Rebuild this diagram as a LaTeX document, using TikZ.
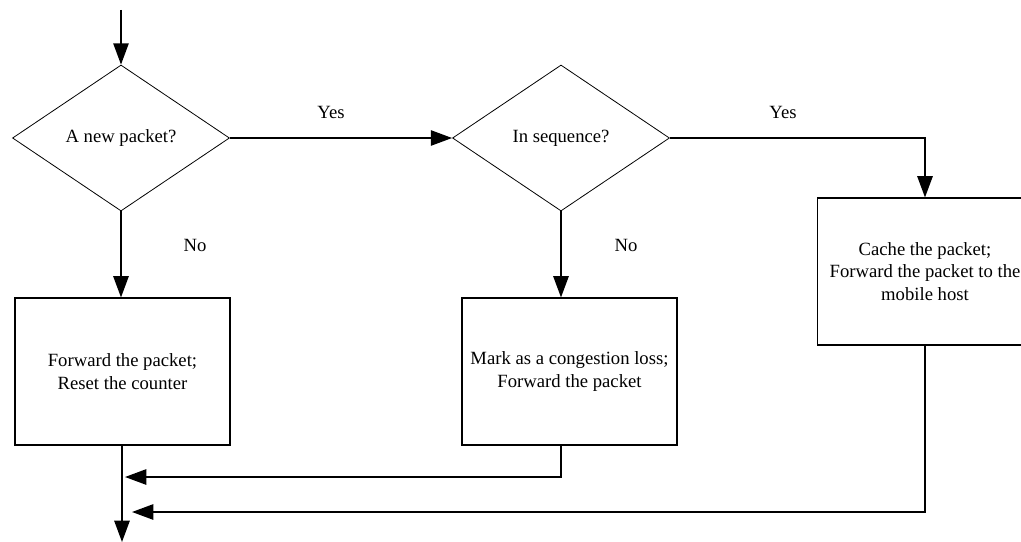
\documentclass[tikz,border=0pt]{standalone}
\usepackage{fontspec}
\setmainfont{Liberation Serif}
\usetikzlibrary{shapes.geometric,arrows.meta}
\begin{document}
\begin{tikzpicture}[x=0.75pt,y=-0.75pt,
  conn/.style={line width=1.3pt,-{Triangle[length=16pt,width=11.5pt]}},
  plainline/.style={line width=1.3pt},
  decision/.style={diamond,draw,line width=0.6pt,minimum width=162.75pt,minimum height=109.5pt,inner sep=0pt,aspect=1.486},
  proc/.style={rectangle,draw,line width=0.8pt,minimum width=161.25pt,minimum height=110.25pt,inner sep=0pt,align=center},
  lbl/.style={inner sep=0pt},
  font=\fontsize{14}{16.8}\selectfont]
\useasboundingbox (0,0) rectangle (1021,542);
% nodes
\node[decision] (d1) at (121,138) {A new packet?};
\node[decision] (d2) at (561,138) {In sequence?};
\node[proc] (b1) at (122.5,371.5) {Forward the packet;\\Reset the counter};
\node[proc] (b2) at (569.5,371.5) {Mark as a congestion loss;\\Forward the packet};
\node[proc] (b3) at (925,271.5) {Cache the packet;\\Forward the packet to the\\mobile host};
% labels
\node[lbl] (y1) at (331,112) {Yes};
\node[lbl] (y2) at (783,112) {Yes};
\node[lbl] (n1) at (195,245) {No};
\node[lbl] (n2) at (626,245) {No};
% coordinates
\coordinate (start) at (121,10);
\coordinate (endp) at (122,542);
\coordinate (c1) at (561,477);
\coordinate (j1) at (125,477);
\coordinate (c2) at (925,512);
\coordinate (j2) at (132,512);
\coordinate (c3) at (925,138);
% connectors
\draw[conn] (start) -- (d1.north);
\draw[conn] (d1.east) -- (d2.west);
\draw[conn] (d2.east) -- (c3) -- (b3.north);
\draw[conn] (d1.south) -- (d1.south |- b1.north);
\draw[conn] (d2.south) -- (d2.south |- b2.north);
\draw[conn] (b1.south -| endp) -- (endp);
\draw[conn] (c1 |- b2.south) -- (c1) -- (j1);
\draw[conn] (b3.south) -- (c2) -- (j2);
\end{tikzpicture}
\end{document}
